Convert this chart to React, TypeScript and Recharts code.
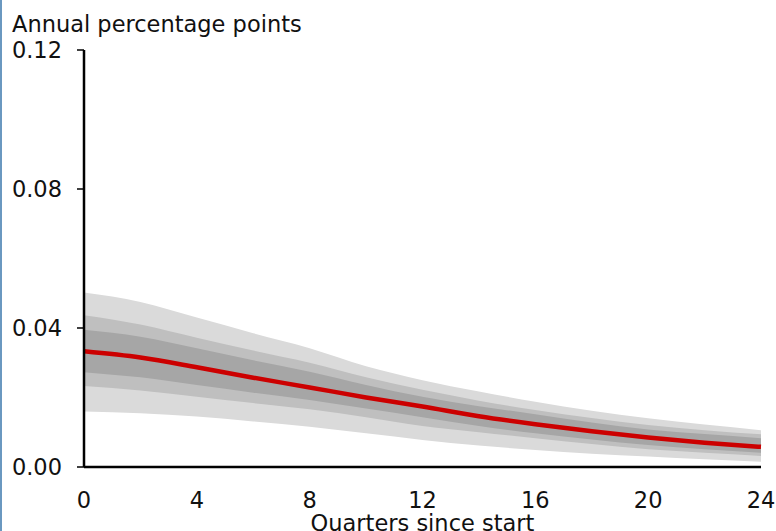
import React from "react";
import { ComposedChart, Area, Line, XAxis, YAxis } from "recharts";

const quarters = [0, 2, 4, 6, 8, 10, 12, 14, 16, 18, 20, 22, 24];
const central = [0.0333, 0.0315, 0.0287, 0.0257, 0.0229, 0.02, 0.0174, 0.0146, 0.0123, 0.0103, 0.0085, 0.007, 0.0058];
const outerHigh = [0.0502, 0.0475, 0.043, 0.0385, 0.0342, 0.029, 0.025, 0.0217, 0.0188, 0.0162, 0.014, 0.0122, 0.0106];
const midHigh = [0.0437, 0.041, 0.0372, 0.0335, 0.03, 0.0258, 0.0222, 0.0191, 0.0164, 0.0141, 0.0121, 0.0106, 0.0094];
const innerHigh = [0.0395, 0.0375, 0.0342, 0.0307, 0.0274, 0.0236, 0.0202, 0.0175, 0.0152, 0.0128, 0.0108, 0.0095, 0.0083];
const innerLow = [0.0273, 0.0258, 0.0236, 0.0214, 0.0193, 0.0168, 0.0143, 0.0118, 0.0097, 0.0079, 0.0063, 0.0051, 0.0041];
const midLow = [0.0233, 0.022, 0.0202, 0.0184, 0.0166, 0.0143, 0.0118, 0.01, 0.0083, 0.0066, 0.0051, 0.0041, 0.0032];
const outerLow = [0.016, 0.0155, 0.0145, 0.0131, 0.0116, 0.0097, 0.0078, 0.0062, 0.0049, 0.0038, 0.003, 0.0022, 0.0015];

const xTicks = [0, 4, 8, 12, 16, 20, 24];
const yTicks = [0, 0.04, 0.08, 0.12];

const data = quarters.map((q, i) => ({
  q,
  central: central[i],
  outer: [outerLow[i], outerHigh[i]],
  mid: [midLow[i], midHigh[i]],
  inner: [innerLow[i], innerHigh[i]],
}));

const FONT = "'DejaVu Sans', Verdana, sans-serif";

export default function App() {
  return (
    <div
      style={{
        position: "absolute",
        left: 0,
        top: 0,
        width: 776,
        height: 531,
        background: "#fff",
        overflow: "hidden",
        fontFamily: FONT,
      }}
    >
      <div style={{ position: "absolute", left: 0, top: 0, width: 2, height: 531, background: "#6a98c0" }} />
      <div
        style={{
          position: "absolute",
          left: 12,
          top: 11,
          fontSize: 22.5,
          color: "#111",
          lineHeight: "26px",
          whiteSpace: "nowrap",
        }}
      >
        Annual percentage points
      </div>
      <ComposedChart
        width={776}
        height={531}
        data={data}
        margin={{ top: 50, right: 15, left: 0, bottom: 0 }}
        style={{ position: "absolute", left: 0, top: 0 }}
      >
        <XAxis
          dataKey="q"
          type="number"
          domain={[0, 24]}
          ticks={xTicks}
          height={64}
          tickLine={false}
          tickSize={0}
          tickMargin={25}
          axisLine={{ stroke: "#000", strokeWidth: 2.5 }}
          tick={{ fill: "#111", fontSize: 22.5, fontFamily: FONT }}
          label={{
            value: "Quarters since start",
            position: "insideBottom",
            offset: 0,
            fill: "#111",
            fontSize: 22.5,
            fontFamily: FONT,
          }}
        />
        <YAxis
          type="number"
          domain={[0, 0.12]}
          ticks={yTicks}
          width={84}
          tickSize={7}
          tickMargin={15}
          tickFormatter={(v: number) => v.toFixed(2)}
          axisLine={{ stroke: "#000", strokeWidth: 2.5 }}
          tickLine={{ stroke: "#000", strokeWidth: 1.5 }}
          tick={{ fill: "#111", fontSize: 22.5, fontFamily: FONT }}
        />
        <Area dataKey="outer" type="monotone" stroke="none" fill="#dadada" fillOpacity={1} isAnimationActive={false} />
        <Area dataKey="mid" type="monotone" stroke="none" fill="#bfbfbf" fillOpacity={1} isAnimationActive={false} />
        <Area dataKey="inner" type="monotone" stroke="none" fill="#a6a6a6" fillOpacity={1} isAnimationActive={false} />
        <Line dataKey="central" type="monotone" stroke="#cc0000" strokeWidth={4.5} dot={false} isAnimationActive={false} />
      </ComposedChart>
    </div>
  );
}
